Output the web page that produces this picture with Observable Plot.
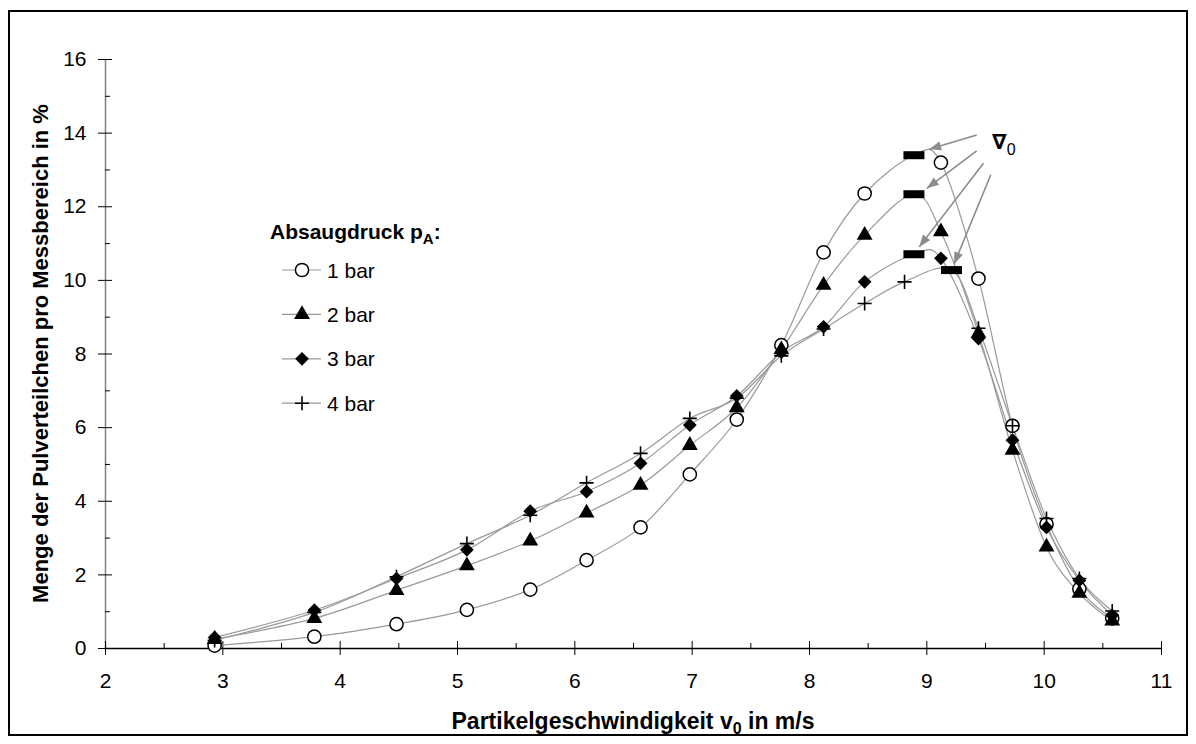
<!DOCTYPE html>
<html><head><meta charset="utf-8">
<script src="https://cdn.jsdelivr.net/npm/d3@7"></script>
<script src="https://cdn.jsdelivr.net/npm/@observablehq/plot@0.6"></script>
<style>body{margin:0;background:#fff;}</style>
</head><body><div id="chart"></div>
<script>
// ---- data ----
const seriesNames = ["1 bar", "2 bar", "3 bar", "4 bar"];
const xA = [2.93, 3.78, 4.48, 5.08, 5.62, 6.10, 6.56, 6.98, 7.38, 7.76, 8.12, 8.47, 9.12, 9.44, 9.73, 10.02, 10.30, 10.58];
const x4 = [2.93, 3.78, 4.48, 5.08, 5.62, 6.10, 6.56, 6.98, 7.38, 7.76, 8.12, 8.47, 8.81, 9.44, 9.73, 10.02, 10.30, 10.58];
const y1bar = [0.08, 0.32, 0.66, 1.05, 1.60, 2.40, 3.29, 4.73, 6.22, 8.24, 10.76, 12.36, 13.20, 10.05, 6.05, 3.38, 1.62, 0.82];
const y2bar = [0.25, 0.82, 1.58, 2.25, 2.92, 3.68, 4.44, 5.52, 6.54, 8.12, 9.87, 11.23, 11.32, 8.56, 5.39, 2.76, 1.50, 0.75];
const y3bar = [0.30, 1.04, 1.90, 2.68, 3.73, 4.26, 5.03, 6.07, 6.86, 8.05, 8.74, 9.96, 10.60, 8.42, 5.66, 3.29, 1.85, 0.90];
const y4bar = [0.22, 0.98, 1.95, 2.85, 3.62, 4.50, 5.30, 6.25, 6.80, 7.95, 8.68, 9.37, 9.96, 8.70, 6.05, 3.53, 1.90, 1.02];
// peak (v0) of each fitted curve
const peakX = [8.89, 8.89, 8.89, 9.21];
const peakY = [13.40, 12.34, 10.71, 10.28];
const arrowFromX = [9.425, 9.425, 9.483, 9.545];
const arrowFromY = [13.95, 13.52, 13.18, 12.87];
const arrowToX = [9.02, 9.00, 8.935, 9.232];
const arrowToY = [13.56, 12.50, 10.91, 10.44];
const xTicks = [2, 3, 4, 5, 6, 7, 8, 9, 10, 11];
const xMinor = [2.5, 3.5, 4.5, 5.5, 6.5, 7.5, 8.5, 9.5, 10.5];
const yTicks = [0, 2, 4, 6, 8, 10, 12, 14, 16];
const yMinor = [1, 3, 5, 7, 9, 11, 13, 15];
const xTitle = ["Partikelgeschwindigkeit v", "0", " in m/s"];
const yTitle = "Menge der Pulverteilchen pro Messbereich in %";
const legendTitle = ["Absaugdruck p", "A", ":"];
const peakLabel = ["\u2207", "0"];
const peakLabelX = 9.56, peakLabelY = 13.55;

// ---- build tables ----
const yAll = [y1bar, y2bar, y3bar, y4bar];
const rows = [];
const curveRows = [];
seriesNames.forEach((s, k) => {
  const xs = k === 3 ? x4 : xA;
  xs.forEach((x, i) => rows.push({series: s, x, y: yAll[k][i]}));
  // curve goes through measured points and the peak
  const pts = xs.map((x, i) => ({series: s, x, y: yAll[k][i]}));
  pts.push({series: s, x: peakX[k], y: peakY[k]});
  pts.sort((a, b) => a.x - b.x);
  curveRows.push(...pts);
});
const peaks = peakX.map((x, i) => ({x, y: peakY[i]}));
const arrows = arrowFromX.map((x, i) => ({x1: x, y1: arrowFromY[i], x2: arrowToX[i], y2: arrowToY[i]}));
const bySeries = s => rows.filter(d => d.series === s);

const barSymbol = {draw(ctx) { ctx.rect(-10.5, -4, 21, 8); }};
const styles = {
  "1 bar": {symbol: "circle", r: 6.6, fill: "white", stroke: "black", strokeWidth: 1.5},
  "2 bar": {symbol: "triangle", r: 5.9, fill: "black", stroke: "none"},
  "3 bar": {symbol: "diamond2", r: 6.2, fill: "black", stroke: "none"},
  "4 bar": {symbol: "plus", r: 4.6, fill: "none", stroke: "black", strokeWidth: 1.6}
};

const W = 1196, H = 744;
const chart = Plot.plot({
  width: W, height: H,
  marginLeft: 105, marginRight: 35, marginTop: 59, marginBottom: 96,
  x: {domain: [2, 11]},
  y: {domain: [0, 16]},
  style: {fontFamily: "'Liberation Sans', Arial, sans-serif", fontSize: "21px", background: "#fff", color: "#000", overflow: "visible"},
  marks: [
    Plot.ruleX([2], {y1: 0, y2: 16, stroke: "#808080", strokeWidth: 1.5}),
    Plot.ruleY([0], {x1: 2, x2: 11, stroke: "#000", strokeWidth: 1.5}),
    Plot.ruleY(yTicks, {x1: 2, x2: 2, insetLeft: -7, insetRight: -7, stroke: "#000", strokeWidth: 1}),
    Plot.ruleY(yMinor, {x1: 2, x2: 2, insetLeft: 0, insetRight: -5, stroke: "#000", strokeWidth: 1}),
    Plot.ruleX(xTicks, {y1: 0, y2: 0, insetTop: -7, insetBottom: -7, stroke: "#000", strokeWidth: 1}),
    Plot.ruleX(xMinor, {y1: 0, y2: 0, insetTop: -5, insetBottom: 0, stroke: "#000", strokeWidth: 1}),
    Plot.axisY({ticks: yTicks, tickSize: 0, tickPadding: 19, label: null, fontSize: 21}),
    Plot.axisX({ticks: xTicks, tickSize: 0, tickPadding: 25, label: null, fontSize: 21}),
    Plot.line(curveRows, {x: "x", y: "y", z: "series", curve: "cardinal", stroke: "#999", strokeWidth: 1.2}),
    ...seriesNames.map(s => Plot.dot(bySeries(s), {x: "x", y: "y", ...styles[s]})),
    Plot.dot(peaks, {x: "x", y: "y", symbol: barSymbol, r: 5, fill: "black"}),
    Plot.link(arrows, {x1: "x1", y1: "y1", x2: "x2", y2: "y2", stroke: "#8c8c8c", strokeWidth: 1.6, className: "peak-arrow"})
  ]
});
document.getElementById("chart").append(chart);

// ---- annotations (titles, legend, frame, arrowheads) ----
const svg = d3.select(chart);
const sx = chart.scale("x"), sy = chart.scale("y");

const defs = svg.append("defs");
defs.append("marker").attr("id", "ahead").attr("markerUnits", "userSpaceOnUse")
  .attr("viewBox", "0 -5 12 10").attr("refX", 12).attr("refY", 0)
  .attr("markerWidth", 13).attr("markerHeight", 10).attr("orient", "auto")
  .append("path").attr("d", "M0,-4.5L12,0L0,4.5Z").attr("fill", "#8c8c8c");
svg.selectAll(".peak-arrow line, .peak-arrow path").attr("marker-end", "url(#ahead)");

// frame
svg.append("rect").attr("x", 9).attr("y", 11).attr("width", W - 18).attr("height", H - 20)
  .attr("fill", "none").attr("stroke", "#000").attr("stroke-width", 2);

// x title
const xt = svg.append("text").attr("x", (sx.apply(2) + sx.apply(11)) / 2).attr("y", 729)
  .attr("text-anchor", "middle").attr("font-weight", "bold").attr("font-size", 23);
xt.append("tspan").text(xTitle[0]);
xt.append("tspan").attr("dy", 5).attr("font-size", 16).text(xTitle[1]);
xt.append("tspan").attr("dy", -5).text(xTitle[2]);

// y title
svg.append("text").attr("transform", `translate(48,${(sy.apply(0) + sy.apply(16)) / 2}) rotate(-90)`)
  .attr("text-anchor", "middle").attr("font-weight", "bold").attr("font-size", 22).text(yTitle);

// peak label
const pl = svg.append("text").attr("x", sx.apply(peakLabelX)).attr("y", sy.apply(peakLabelY))
  .attr("text-anchor", "start")
  .attr("font-family", "'DejaVu Sans', sans-serif").attr("font-size", 21);
pl.append("tspan").attr("font-weight", "bold").text(peakLabel[0]);
pl.append("tspan").attr("dy", 6).attr("font-size", 16).attr("font-family", "'Liberation Sans', Arial, sans-serif").text(peakLabel[1]);

// legend
const lg = svg.append("g").attr("transform", "translate(270,0)").attr("text-anchor", "start");
const lt = lg.append("text").attr("x", 0).attr("y", 239).attr("font-weight", "bold").attr("font-size", 21);
lt.append("tspan").text(legendTitle[0]);
lt.append("tspan").attr("dy", 5).attr("font-size", 15).text(legendTitle[1]);
lt.append("tspan").attr("dy", -5).text(legendTitle[2]);
const symMap = {circle: d3.symbolCircle, triangle: d3.symbolTriangle, diamond2: d3.symbolDiamond2, plus: d3.symbolPlus};
seriesNames.forEach((s, i) => {
  const cy = 270 + i * 44.4;
  const st = styles[s];
  lg.append("line").attr("x1", 12).attr("x2", 51).attr("y1", cy).attr("y2", cy).attr("stroke", "#999").attr("stroke-width", 1.2);
  lg.append("path").attr("transform", `translate(32,${cy})`)
    .attr("d", d3.symbol(symMap[st.symbol], Math.PI * st.r * st.r)())
    .attr("fill", st.fill).attr("stroke", st.stroke).attr("stroke-width", st.strokeWidth || 0);
  lg.append("text").attr("x", 57).attr("y", cy + 7.5).attr("font-size", 21).text(s);
});
</script>
</body></html>
